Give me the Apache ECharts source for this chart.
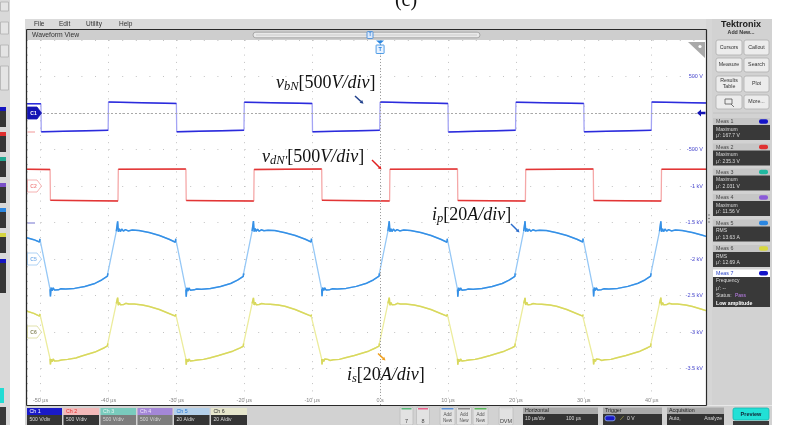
<!DOCTYPE html>
<html><head><meta charset="utf-8">
<script src="https://cdn.jsdelivr.net/npm/echarts@6/dist/echarts.min.js"></script>
<style>html,body{margin:0;padding:0;background:#fff}#c{width:787px;height:425px}</style>
</head><body><div id="c"></div><script>
// ---------------- DATA (time in µs, physical units) ----------------
const channelNames = ['Ch 1', 'Ch 2', 'Ch 5', 'Ch 6'];
const channelScales = [500, 500, 20, 20];          // V/div, V/div, A/div, A/div
const channelOffsets = [0, -1000, -2000, -3000];   // position on screen axis (V)
const yTickValues = [500, -500, -1000, -1500, -2000, -2500, -3000, -3500];
const xTickValues = [-50, -40, -30, -20, -10, 0, 10, 20, 30, 40];

// v_bN [V]
const vbN = [[-52,128],[-49.95,126],[-49.9,-258],[-40.05,-238],[-40.0,150],[-30.0,131],[-29.95,-257],[-20.05,-236],[-20.0,148],[-10.0,130],[-9.95,-258],[-0.05,-237],[0.0,149],[10.0,130],[10.05,-259],[19.95,-236],[20.0,148],[30.0,131],[30.05,-258],[39.95,-237],[40.0,150],[48,138]];
// v_dN' [V]
const vdN = [[-52,228],[-48.6,226],[-48.55,-196],[-38.6,-205],[-38.55,228],[-28.6,232],[-28.55,-197],[-18.6,-206],[-18.55,226],[-8.6,233],[-8.55,-196],[1.4,-205],[1.45,228],[11.4,232],[11.45,-197],[21.4,-206],[21.45,227],[31.4,233],[31.45,-197],[41.4,-206],[41.45,228],[48,231]];
// i_p [A]
const ip = [[-52.0,11.6],[-51.0,10.6],[-50.15,9.3],[-50.1,11.0],
[-48.6,-16.6],[-48.55,-20.5],[-48.45,-15.7],[-48.3,-17.4],[-48.15,-15.8],[-47.95,-17.0],[-47.7,-16.0],[-47.4,-16.9],[-47.0,-16.3],[-46.3,-16.5],[-45.0,-16.1],[-43.5,-15.1],[-42.0,-13.4],[-41.0,-11.5],[-40.15,-9.4],[-40.1,-7.8],
[-38.85,15.2],[-38.65,20.6],[-38.55,14.9],[-38.4,16.6],[-38.25,15.0],[-38.05,16.4],[-37.8,15.3],[-37.5,16.1],[-37.1,15.4],[-36.5,15.9],[-35.5,15.6],[-34.0,14.5],[-32.5,12.9],[-31.0,10.7],[-30.15,9.2],[-30.1,11.1],
[-28.6,-16.7],[-28.55,-20.6],[-28.45,-15.8],[-28.3,-17.5],[-28.15,-15.9],[-27.95,-17.1],[-27.7,-16.1],[-27.4,-16.9],[-27.0,-16.4],[-26.3,-16.6],[-25.0,-16.2],[-23.5,-15.1],[-22.0,-13.4],[-21.0,-11.6],[-20.15,-9.5],[-20.1,-7.9],
[-18.85,15.3],[-18.65,20.8],[-18.55,15.0],[-18.4,16.7],[-18.25,15.1],[-18.05,16.3],[-17.8,15.2],[-17.5,16.0],[-17.1,15.5],[-16.5,15.8],[-15.5,15.6],[-14.0,14.4],[-12.5,12.9],[-11.0,10.8],[-10.15,9.3],[-10.1,11.2],
[-8.6,-16.6],[-8.55,-20.4],[-8.45,-15.7],[-8.3,-17.3],[-8.15,-15.8],[-7.95,-17.0],[-7.7,-16.0],[-7.4,-16.8],[-7.0,-16.3],[-6.3,-16.5],[-5.0,-16.1],[-3.5,-15.0],[-2.0,-13.3],[-1.0,-11.5],[-0.15,-9.4],[-0.1,-7.8],
[1.15,15.2],[1.35,20.7],[1.45,14.9],[1.6,16.6],[1.75,15.0],[1.95,16.4],[2.2,15.3],[2.5,16.1],[2.9,15.4],[3.5,15.9],[4.5,15.6],[6.0,14.5],[7.5,12.9],[9.0,10.7],[9.85,9.2],[9.9,11.1],
[11.4,-16.7],[11.45,-20.6],[11.55,-15.8],[11.7,-17.4],[11.85,-15.9],[12.05,-17.1],[12.3,-16.1],[12.6,-16.9],[13.0,-16.4],[13.7,-16.6],[15.0,-16.2],[16.5,-15.1],[18.0,-13.4],[19.0,-11.6],[19.85,-9.5],[19.9,-7.9],
[21.15,15.3],[21.35,20.7],[21.45,15.0],[21.6,16.7],[21.75,15.1],[21.95,16.3],[22.2,15.2],[22.5,16.0],[22.9,15.5],[23.5,15.8],[24.5,15.6],[26.0,14.4],[27.5,12.9],[29.0,10.8],[29.85,9.3],[29.9,11.2],
[31.4,-16.6],[31.45,-20.5],[31.55,-15.7],[31.7,-17.3],[31.85,-15.8],[32.05,-17.0],[32.3,-16.0],[32.6,-16.8],[33.0,-16.3],[33.7,-16.5],[35.0,-16.1],[36.5,-15.0],[38.0,-13.3],[39.0,-11.5],[39.85,-9.4],[39.9,-7.8],
[41.15,15.2],[41.35,20.6],[41.45,14.9],[41.6,16.6],[41.75,15.0],[41.95,16.4],[42.2,15.3],[42.5,16.1],[42.9,15.4],[43.5,15.9],[44.5,15.6],[46.0,14.5],[47.5,13.0],[48.0,12.4]];
// i_s [A]
const is = [[-52.0,11.4],[-51.0,10.2],[-50.15,8.7],[-50.1,9.9],
[-48.6,-14.7],[-48.55,-17.8],[-48.45,-14.9],[-48.3,-16.3],[-48.15,-14.8],[-47.95,-15.9],[-47.7,-15.0],[-47.35,-15.7],[-46.9,-15.3],[-46.0,-15.0],[-44.8,-14.2],[-43.8,-13.0],[-42.0,-11.0],[-40.6,-8.6],[-40.15,-7.6],[-40.1,-6.2],
[-38.85,15.6],[-38.65,18.8],[-38.55,14.7],[-38.4,16.2],[-38.25,14.9],[-38.05,15.9],[-37.8,15.0],[-37.45,15.7],[-37.0,15.3],[-36.2,15.3],[-35.0,14.8],[-34.0,14.0],[-32.5,12.3],[-31.0,10.0],[-30.15,8.7],[-30.1,9.8],
[-28.6,-14.7],[-28.55,-17.9],[-28.45,-15.0],[-28.3,-16.3],[-28.15,-14.8],[-27.95,-15.9],[-27.7,-15.0],[-27.35,-15.6],[-26.9,-15.3],[-26.0,-15.0],[-25.1,-14.2],[-23.8,-12.9],[-21.7,-10.5],[-20.6,-8.7],[-20.15,-7.8],[-20.1,-6.3],
[-18.85,15.6],[-18.65,18.7],[-18.55,14.8],[-18.4,16.3],[-18.25,14.9],[-18.05,15.8],[-17.8,15.1],[-17.45,15.6],[-17.0,15.4],[-16.2,15.2],[-15.0,14.8],[-14.0,14.1],[-12.5,12.3],[-11.0,10.0],[-10.15,8.7],[-10.1,9.7],
[-8.6,-14.8],[-8.55,-17.8],[-8.45,-14.9],[-8.3,-16.2],[-8.15,-14.8],[-7.95,-15.8],[-7.7,-15.0],[-7.35,-15.6],[-6.9,-15.2],[-6.0,-15.0],[-5.1,-14.1],[-3.8,-12.9],[-1.7,-10.5],[-0.6,-8.6],[-0.15,-7.7],[-0.1,-6.2],
[1.15,15.6],[1.35,18.8],[1.45,14.7],[1.6,16.2],[1.75,14.9],[1.95,15.9],[2.2,15.0],[2.55,15.7],[3.0,15.3],[3.8,15.3],[5.0,14.8],[6.0,14.0],[7.5,12.3],[9.0,10.0],[9.85,8.7],[9.9,9.8],
[11.4,-14.7],[11.45,-17.9],[11.55,-15.0],[11.7,-16.3],[11.85,-14.8],[12.05,-15.9],[12.3,-15.0],[12.65,-15.6],[13.1,-15.3],[14.0,-15.0],[14.9,-14.2],[16.2,-12.9],[18.3,-10.5],[19.4,-8.7],[19.85,-7.8],[19.9,-6.3],
[21.15,15.6],[21.35,18.7],[21.45,14.8],[21.6,16.3],[21.75,14.9],[21.95,15.8],[22.2,15.1],[22.55,15.6],[23.0,15.4],[23.8,15.2],[25.0,14.8],[26.0,14.1],[27.5,12.3],[29.0,10.0],[29.85,8.7],[29.9,9.7],
[31.4,-14.8],[31.45,-17.8],[31.55,-14.9],[31.7,-16.2],[31.85,-14.8],[32.05,-15.8],[32.3,-15.0],[32.65,-15.6],[33.1,-15.2],[34.0,-15.0],[34.9,-14.1],[36.2,-12.9],[38.3,-10.5],[39.4,-8.6],[39.85,-7.7],[39.9,-6.2],
[41.15,15.6],[41.35,18.8],[41.45,14.7],[41.6,16.2],[41.75,14.9],[41.95,15.9],[42.2,15.0],[42.55,15.7],[43.0,15.3],[43.8,15.3],[45.0,14.8],[46.0,14.0],[47.5,12.3],[48.0,11.7]];

const measNames = ['Meas 1','Meas 2','Meas 3','Meas 4','Meas 5','Meas 6'];
const measTypes = ['Maximum','Maximum','Maximum','Maximum','RMS','RMS'];
const measValues = ["μ': 167.7 V","μ': 235.3 V","μ': 2.031 V","μ': 11.56 V","μ': 13.63 A","μ': 12.69 A"];

// ---------------- BUILD ----------------
const AXIS_PER_DIV = 500;
function toScreen(d, k){ return d.map(p => [p[0], channelOffsets[k] + p[1]*AXIS_PER_DIV/channelScales[k]]); }
function darkParts(d){ const o=[]; for(let k=0;k<d.length;k++){ if(k>0 && Math.abs(d[k][1]-d[k-1][1])>150){ o.push([(d[k][0]+d[k-1][0])/2,'-']); } o.push(d[k]); } return o; }

const colors = ['#2b2bdc','#e23535','#3590e6','#d8d85e'];
const light  = ['#a4a4f4','#f5a8a8','#96c8f6','#ecec9c'];
const raw = [vbN, vdN, ip, is];

const series = [];
[3,2,1,0].forEach(k => {
  const d = toScreen(raw[k], k);
  series.push({type:'line', data:d, showSymbol:false, symbol:'none', lineStyle:{color:light[k], width:1.3}, z:3, silent:true, animation:false});
  const s = {type:'line', data:darkParts(d), showSymbol:false, symbol:'none', connectNulls:false, lineStyle:{color:colors[k], width:1.5}, z:4, silent:true, animation:false};
  if (k === 0) {
    s.markLine = {silent:true, symbol:['none','none'], label:{show:false}, animation:false,
      data:[{xAxis:0, lineStyle:{color:'#9c9c9c', type:[1,2], width:1}},
            {yAxis:channelOffsets[0], lineStyle:{color:'#a8a8a8', type:[2,2], width:1}}]};
  }
  series.push(s);
});

const SANS = '"Liberation Sans", "DejaVu Sans", Arial, sans-serif';
const SERIF = '"Liberation Serif", "DejaVu Serif", serif';

const option = {
  animation:false,
  backgroundColor:'#ffffff',
  grid:{left:27, right:81, top:40, bottom:20, show:true, backgroundColor:'#ffffff', borderWidth:0, outerBoundsMode:'none', containLabel:false},
  xAxis:{type:'value', min:-52, max:48, splitNumber:10,
    axisLine:{show:false}, axisTick:{show:false},
    axisLabel:{inside:true, margin:2, fontSize:5.5, color:'#858585', fontFamily:SANS, showMinLabel:false, showMaxLabel:false,
      formatter:v => xTickValues.indexOf(v) < 0 ? '' : (v === 0 ? '0 s' : v + ' µs')},
    splitLine:{show:true, lineStyle:{color:'#c2c2c2', width:1, type:[1,6.3]}}},
  yAxis:{type:'value', position:'right', min:-4000, max:1000, interval:500,
    axisLine:{show:false}, axisTick:{show:false},
    axisLabel:{inside:true, margin:3, fontSize:5.5, color:'#4a4ad0', fontFamily:SANS,
      formatter:v => yTickValues.indexOf(v) < 0 ? '' : (Math.abs(v) >= 1000 ? (v/1000) + ' kV' : v + ' V')},
    splitLine:{show:true, lineStyle:{color:'#c2c2c2', width:1, type:[1,12.6]}}},
  series: series
};

const chart = echarts.init(document.getElementById('c'), null, {renderer:'canvas', width:787, height:425});
chart.setOption(option);

// ---------------- CHROME (graphic) ----------------
const G = [];
function rect(x,y,w,h,fill,stroke,r,z){G.push({type:'rect',silent:true,z:z||50,shape:{x:x,y:y,width:w,height:h,r:r||0},style:{fill:fill||'none',stroke:stroke||'none',lineWidth:stroke?0.8:0}});}
function txt(x,y,s,size,color,o){o=o||{};G.push({type:'text',silent:true,z:o.z||60,x:x,y:y,style:{text:s,fontSize:size,fontFamily:o.f||SANS,fontWeight:o.w||'normal',fontStyle:o.st||'normal',fill:color,align:o.a||'left',verticalAlign:o.v||'middle',textAlign:o.a||'left',textVerticalAlign:o.v||'middle',lineHeight:o.lh||undefined}});}
function line(x1,y1,x2,y2,c,w,dash,z){G.push({type:'line',silent:true,z:z||55,shape:{x1:x1,y1:y1,x2:x2,y2:y2},style:{stroke:c,lineWidth:w||1,lineDash:dash||null}});}
function poly(pts,fill,stroke,z){G.push({type:'polygon',silent:true,z:z||60,shape:{points:pts},style:{fill:fill,stroke:stroke||'none',lineWidth:stroke?0.8:0}});}
function circ(cx,cy,r,fill,z){G.push({type:'circle',silent:true,z:z||60,shape:{cx:cx,cy:cy,r:r},style:{fill:fill}});}

// figure caption (cut)
txt(406, 1, '(c)', 20, '#111', {f:SERIF, a:'center'});

// left strip
rect(0,0,10,425,'#d9d9d9');
rect(0.5,2,8,9,'#e4e4e4','#b0b0b0');
rect(0.5,22,8,12,'#e4e4e4','#b0b0b0');
rect(0.5,45,8,12,'#e4e4e4','#b0b0b0');
rect(0.5,66,8,24,'#e4e4e4','#b0b0b0');
const stripCols = ['#1414c0','#e03030','#20a890','#7a50c8','#2a86e0','#d4d440','#1414c0'];
const stripY = [107,132,157,183,208,233,259];
stripY.forEach((y,i)=>{ rect(0,y,6,i===6?34:20,'#363636'); rect(0,y,6,4,stripCols[i]); });
rect(0,388,4,15,'#22dcd4');
rect(0,407,6,18,'#3a3a3a');

// menu bar
rect(25,19,687,11,'#dbdbdb');
txt(34,24.5,'File',6.5,'#333'); txt(59,24.5,'Edit',6.5,'#333'); txt(86,24.5,'Utility',6.5,'#333'); txt(119,24.5,'Help',6.5,'#333');
// waveform view bar
rect(27,30,679,10,'#cecece');
txt(32,35.3,'Waveform View',6.8,'#333');
rect(253,32.2,227,5.6,'#e9e9e9','#9a9a9a',2.8);
line(256,35,477,35,'#c4c4c4',0.8);
rect(367,31.5,6,7,'#dce9fb','#3b86d8',1,62);
txt(370,35.2,'T',4.5,'#3b86d8',{a:'center',w:'bold',z:63});

// right panel
rect(706,19,66,386,'#d6d6d6');
rect(712,19,60,386,'#d2d2d2');
txt(741,24.5,'Tektronix',9,'#1a1a1a',{a:'center',w:'bold'});
txt(741,33,'Add New...',5.3,'#333',{a:'center',w:'bold'});
function btn(x,y,w,h,label){ rect(x,y,w,h,'#ececec','#aeaeae',2); txt(x+w/2,y+h/2,label,5.3,'#333',{a:'center',lh:6}); }
btn(716,40,26,15,'Cursors'); btn(744,40,25,15,'Callout');
btn(716,58,26,14,'Measure'); btn(744,58,25,14,'Search');
btn(716,76,26,16,'Results\nTable'); btn(744,76,25,16,'Plot');
btn(716,95,26,14,''); btn(744,95,25,14,'More...');
rect(725,99,7,5,'none','#555'); line(731,104,734,107,'#555',0.8);
line(713,113,770,113,'#bdbdbd',0.8);
const badgeCols = ['#1414c8','#e03030','#20b8a0','#8a5ad8','#2a86e0','#d8d840'];
const measY = [118,143.5,168.5,194,219.5,245];
measY.forEach((y0,i)=>{
  rect(713,y0,57,7,'#c6c6c6');
  txt(716,y0+3.6,measNames[i],5.3,'#444');
  rect(759,y0+1.3,9,4.5,badgeCols[i],null,2);
  rect(713,y0+7,57,15,'#393939');
  txt(716,y0+11.3,measTypes[i],5,'#dcdcdc');
  txt(716,y0+18,measValues[i],5,'#dcdcdc');
});
rect(713,269.5,57,7.5,'#ffffff');
txt(716,273.3,'Meas 7',5.3,'#2a44c8');
rect(759,271,9,4.5,'#1414c8',null,2);
rect(713,277,57,30,'#393939');
txt(716,280.8,'Frequency',5,'#dcdcdc');
txt(716,288.5,"μ': --",5,'#dcdcdc');
txt(716,296,'Status: ',5,'#dcdcdc');
txt(735,296,'Pass',5,'#c080f0');
txt(716,303.3,'Low amplitude',5.2,'#ffffff',{w:'bold'});
circ(709,215,0.7,'#555'); circ(709,218.5,0.7,'#555'); circ(709,222,0.7,'#555');

// bottom bar
rect(25,405.5,747,19.5,'#d2d2d2');
const chDefs = [
  {x:27,w:35,h:'#1a1ac8',ht:'#ffffff',l:'#353535',lt:'#dddddd',n:'Ch 1',s:'500 V/div'},
  {x:63.5,w:35.5,h:'#f3b9b9',ht:'#e53030',l:'#353535',lt:'#dddddd',n:'Ch 2',s:'500 V/div'},
  {x:100.5,w:35.5,h:'#79cbbd',ht:'#e6f6f2',l:'#7d7d7d',lt:'#d6d6d6',n:'Ch 3',s:'500 V/div'},
  {x:137.5,w:35,h:'#a487d8',ht:'#efe8fb',l:'#7d7d7d',lt:'#d6d6d6',n:'Ch 4',s:'500 V/div'},
  {x:174,w:35.5,h:'#b4d0ea',ht:'#2a7ad8',l:'#353535',lt:'#dddddd',n:'Ch 5',s:'20 A/div'},
  {x:211,w:36,h:'#e6e6cc',ht:'#333333',l:'#353535',lt:'#dddddd',n:'Ch 6',s:'20 A/div'}];
chDefs.forEach(c=>{ rect(c.x,408,c.w,7,c.h); txt(c.x+2.5,411.6,c.n,5.3,c.ht); rect(c.x,415,c.w,10,c.l); txt(c.x+2.5,419.2,c.s,5,c.lt); });
function sbtn(x,w,stripe,l1,l2){ rect(x,407,w,18,'#e2e2e2','#bdbdbd',1.5); rect(x+1.5,408,w-3,1.5,stripe); if(l2){txt(x+w/2,414.5,l1,4.6,'#555',{a:'center'}); txt(x+w/2,421,l2,4.6,'#555',{a:'center'});} else txt(x+w/2,421,l1,5.5,'#444',{a:'center'}); }
sbtn(400,13,'#58b878','7'); sbtn(416.5,13,'#e8608a','8');
sbtn(440,15,'#5a90d8','Add','New'); sbtn(456.5,15,'#8a8a8a','Add','New'); sbtn(473,15,'#5ab85a','Add','New');
sbtn(499,14,'#d8d8d8','DVM');
function box(x,w,title){ rect(x,407.5,w,6.5,'#a9a9a9'); txt(x+2,410.9,title,5.3,'#222'); rect(x,414,w,11,'#333333'); }
box(523,75,'Horizontal'); txt(525,418.5,'10 µs/div',5,'#dddddd'); txt(566,418.5,'100 µs',5,'#dddddd');
box(603,59,'Trigger'); rect(605,415.8,10,5,'#1a1ac8','#8fb0ff',2); txt(620,418.5,'⟋',5.5,'#d8d850'); txt(627,418.5,'0 V',5,'#dddddd');
box(667,57,'Acquisition'); txt(669,418.5,'Auto,',5,'#dddddd'); txt(722,418.5,'Analyze',5,'#dddddd',{a:'right'});
rect(733,408,36,12,'#22e0d6','#12b6ae',2); txt(751,414,'Preview',5.5,'#112233',{a:'center',w:'bold'});
rect(733,421,36,4,'#3a3a3a');

// waveform window frame
line(26.5,29.5,706.5,29.5,'#2a2a2a',1.2,null,70);
line(26.5,29.5,26.5,405.5,'#2a2a2a',1.3,null,70);
line(706.5,29.5,706.5,405.5,'#2a2a2a',1.2,null,70);
line(26.5,405.5,706.5,405.5,'#2a2a2a',1.2,null,70);

// corner icon
poly([[688,42],[705,42],[705,58]],'#a9a9a9',null,62);
circ(700,46.5,1.6,'#ffffff',63);

// trigger marker
const xT = chart.convertToPixel({xAxisIndex:0}, 0);
poly([[xT-4,40.5],[xT+4,40.5],[xT,44]],'#2a86e0',null,65);
rect(xT-4,45,8,8.5,'#eaf3ff','#2a86e0',0.5,65);
txt(xT,49.4,'T',5.5,'#2a86e0',{a:'center',w:'bold',z:66});

// channel position tags
const tagDefs = [
  {k:0, fill:'#1414b4', stroke:'#1414b4', tc:'#ffffff', t:'C1'},
  {k:1, fill:'#ffffff', stroke:'#f2a0a0', tc:'#f08a8a', t:'C2'},
  {k:2, fill:'#ffffff', stroke:'#9cc8f2', tc:'#7ab0ea', t:'C5'},
  {k:3, fill:'#ffffff', stroke:'#dada98', tc:'#8a8a60', t:'C6'}];
tagDefs.forEach(d=>{
  const yc = chart.convertToPixel({yAxisIndex:0}, channelOffsets[d.k]);
  poly([[27.5,yc-6],[37,yc-6],[41.5,yc],[37,yc+6],[27.5,yc+6]], d.fill, d.stroke, 66);
  txt(33.5,yc+0.3,d.t,5,d.tc,{a:'center',w:'bold',z:67});
});
const y0 = chart.convertToPixel({yAxisIndex:0}, channelOffsets[0]);
poly([[697,y0],[701,y0-3.6],[701,y0-1.2],[705.5,y0-1.2],[705.5,y0+1.2],[701,y0+1.2],[701,y0+3.6]],'#1414b4',null,66);
line(27.5,132,35,132,'#f4a8a8',1.2,null,66);
line(27.5,223,35,223,'#8a8ad8',1.2,null,66);

// annotations
const RICH = {
  i:{fontFamily:SERIF, fontStyle:'italic', fontSize:18, fill:'#111'},
  r:{fontFamily:SERIF, fontSize:18, fill:'#111'},
  s:{fontFamily:SERIF, fontStyle:'italic', fontSize:12.5, fill:'#111', padding:[7,0,0,0]}
};
function math(x,y,str){ G.push({type:'text',silent:true,z:80,x:x,y:y,style:{text:str,rich:RICH,fontSize:18,fontFamily:SERIF,fill:'#111',align:'left',verticalAlign:'middle',textAlign:'left',textVerticalAlign:'middle'}}); }
math(276,83,'{i|v}{s|bN}{r|[500}{i|V/div}{r|]}');
math(262,157,'{i|v}{s|dN′}{r|[500}{i|V/div}{r|]}');
math(432,215,'{i|i}{s|p}{r|[20}{i|A/div}{r|]}');
math(347,375,'{i|i}{s|s}{r|[20}{i|A/div}{r|]}');
function arrow(x1,y1,x2,y2,c){
  const dx=x2-x1, dy=y2-y1, L=Math.hypot(dx,dy), ux=dx/L, uy=dy/L;
  const bx=x2-ux*3.5, by=y2-uy*3.5;
  line(x1,y1,bx,by,c,1.5,null,80);
  poly([[x2,y2],[bx-uy*1.9,by+ux*1.9],[bx+uy*1.9,by-ux*1.9]],c,null,80);
}
arrow(355,96,363.5,103.8,'#20408c');
arrow(372,160,381.5,169.5,'#e02020');
arrow(511,224,519.5,232.5,'#2a6ccc');
arrow(378,353.5,385.5,360.5,'#f0a020');

chart.setOption({graphic:{elements:G}});
</script></body></html>
